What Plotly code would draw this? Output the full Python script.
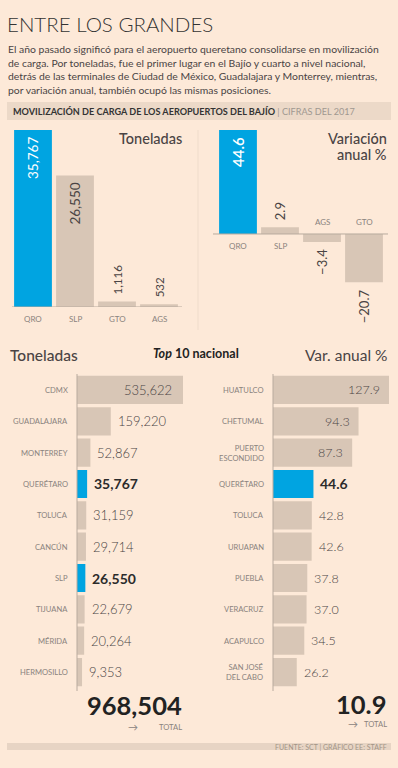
import plotly.graph_objects as go

# ---------------- data ----------------
top_cats = ["QRO", "SLP", "GTO", "AGS"]
top_tons = [35767, 26550, 1116, 532]

var_cats = ["QRO", "SLP", "AGS", "GTO"]
var_vals = [44.6, 2.9, -3.4, -20.7]

nat_ton_cats = ["CDMX", "GUADALAJARA", "MONTERREY", "QUERÉTARO", "TOLUCA",
                "CANCÚN", "SLP", "TIJUANA", "MÉRIDA", "HERMOSILLO"]
nat_ton_vals = [535622, 159220, 52867, 35767, 31159, 29714, 26550, 22679, 20264, 9353]

nat_var_cats = ["HUATULCO", "CHETUMAL", "PUERTO<br>ESCONDIDO", "QUERÉTARO", "TOLUCA",
                "URUAPAN", "PUEBLA", "VERACRUZ", "ACAPULCO", "SAN JOSÉ<br>DEL CABO"]
nat_var_vals = [127.9, 94.3, 87.3, 44.6, 42.8, 42.6, 37.8, 37.0, 34.5, 26.2]

total_tons = 968504
total_var = 10.9

highlight = {"QRO", "QUERÉTARO", "SLP"}

# ---------------- style ----------------
W, H = 398, 768
BG = "#fde9d8"
TAN = "#d8c6b6"
BLUE = "#00a4e1"
DARK = "#2b2b2b"
TXT = "#4a4444"
GRAY = "#8a837e"
FONT = "Lato"
TON_OFFSET = 17000  # minimum visible bar length in bottom-left chart


def px(p):
    return p / W


def py(p):
    return 1 - p / H


fig = go.Figure()

# --- top left: toneladas ---
fig.add_trace(go.Bar(
    x=top_cats, y=top_tons, xaxis="x", yaxis="y",
    marker=dict(color=[BLUE if c == "QRO" else TAN for c in top_cats], line=dict(width=0)),
    hoverinfo="skip"))

# --- top right: variación ---
fig.add_trace(go.Bar(
    x=var_cats, y=var_vals, xaxis="x2", yaxis="y2",
    marker=dict(color=[BLUE if c == "QRO" else TAN for c in var_cats], line=dict(width=0)),
    hoverinfo="skip"))

# --- bottom left: top 10 toneladas ---
fig.add_trace(go.Bar(
    y=nat_ton_cats, x=[v + TON_OFFSET for v in nat_ton_vals], base=-TON_OFFSET,
    orientation="h", xaxis="x3", yaxis="y3",
    marker=dict(color=[BLUE if c in highlight else TAN for c in nat_ton_cats], line=dict(width=0)),
    hoverinfo="skip"))

# --- bottom right: top 10 variación ---
fig.add_trace(go.Bar(
    y=nat_var_cats, x=nat_var_vals, orientation="h", xaxis="x4", yaxis="y4",
    marker=dict(color=[BLUE if c in highlight else TAN for c in nat_var_cats], line=dict(width=0)),
    hoverinfo="skip"))

hidden = dict(visible=False, showgrid=False, zeroline=False, fixedrange=True)

rows_top, rows_bot = 374.3, 687.7

fig.update_layout(
    width=W, height=H, margin=dict(l=0, r=0, t=0, b=0),
    paper_bgcolor=BG, plot_bgcolor="rgba(0,0,0,0)",
    showlegend=False, bargap=0.1,
    font=dict(family=FONT, color=TXT),
    xaxis=dict(hidden, domain=[px(12), px(180)], range=[-0.5, 3.5], type="category"),
    yaxis=dict(hidden, domain=[py(307), py(130)], range=[0, 35767]),
    xaxis2=dict(hidden, domain=[px(217), px(385)], range=[-0.5, 3.5], type="category"),
    yaxis2=dict(hidden, domain=[py(320), py(130)], range=[-36.9, 44.6]),
    xaxis3=dict(hidden, domain=[px(77), px(183)], range=[-TON_OFFSET, 535622]),
    yaxis3=dict(hidden, domain=[py(rows_bot), py(rows_top)], type="category",
                categoryorder="array", categoryarray=nat_ton_cats, range=[9.5, -0.5]),
    xaxis4=dict(hidden, domain=[px(273), px(389)], range=[0, 127.9]),
    yaxis4=dict(hidden, domain=[py(rows_bot), py(rows_top)], type="category",
                categoryorder="array", categoryarray=nat_var_cats, range=[9.5, -0.5]),
)

shapes = []
# header band
shapes.append(dict(type="rect", xref="paper", yref="paper", x0=px(7), x1=px(391),
                   y0=py(120), y1=py(102), fillcolor="#ecd9c8", line=dict(width=0), layer="below"))
# footer band
shapes.append(dict(type="rect", xref="paper", yref="paper", x0=px(7), x1=px(391),
                   y0=py(750), y1=py(743), fillcolor="#e7d4c4", line=dict(width=0), layer="below"))
# baselines
shapes.append(dict(type="line", xref="paper", yref="y", x0=px(12), x1=px(182), y0=0, y1=0,
                   line=dict(color="#b8aa9e", width=1)))
shapes.append(dict(type="line", xref="paper", yref="y2", x0=px(213), x1=px(388), y0=0, y1=0,
                   line=dict(color="#b8aa9e", width=1)))
# vertical axis lines bottom
shapes.append(dict(type="line", xref="paper", yref="paper", x0=px(77), x1=px(77),
                   y0=py(374), y1=py(691), line=dict(color="#b8aa9e", width=1)))
shapes.append(dict(type="line", xref="paper", yref="paper", x0=px(273), x1=px(273),
                   y0=py(374), y1=py(691), line=dict(color="#b8aa9e", width=1)))
# divider
shapes.append(dict(type="line", xref="paper", yref="paper", x0=px(198), x1=px(198),
                   y0=py(330), y1=py(130), line=dict(color="#efdccb", width=1)))
fig.update_layout(shapes=shapes)

ann = []


def A(text, x, y, xanchor="left", yanchor="middle", size=11, color=TXT, weight=400,
      xref="paper", yref="paper", align="left", **kw):
    d = dict(text=text, x=x, y=y, xref=xref, yref=yref, xanchor=xanchor, yanchor=yanchor,
             showarrow=False, align=align,
             font=dict(family=FONT, size=size, color=color, weight=weight))
    d.update(kw)
    ann.append(d)


# title + intro
A("ENTRE LOS GRANDES", px(5), py(23.5), size=20.5, color="#333", weight=300)
intro = [
    "El año pasado significó para el aeropuerto queretano consolidarse en movilización",
    "de carga. Por toneladas, fue el primer lugar en el Bajío y cuarto a nivel nacional,",
    "detrás de las terminales de Ciudad de México, Guadalajara y Monterrey, mientras,",
    "por variación anual, también ocupó las mismas posiciones.",
]
for i, line in enumerate(intro):
    A(line, px(6), py(49 + 13.5 * i), size=10.4, color="#4a4444")

A("<b>MOVILIZACIÓN DE CARGA DE LOS AEROPUERTOS DEL BAJÍO</b>"
  "<span style='color:#a09890;font-weight:400'> | CIFRAS DEL 2017</span>",
  px(11), py(111), size=9.1, color="#333", weight=900)

# top-left header
A("Toneladas", px(184), py(138), xanchor="right", size=14.5, color="#4a4444", weight=500)
# top-right header
A("Variación", px(389), py(138), xanchor="right", size=14.5, color="#4a4444", weight=500)
A("anual %", px(389), py(154), xanchor="right", size=14.5, color="#4a4444", weight=500)

# top-left labels
for c, v in zip(top_cats, top_tons):
    A(c, c, 0, xref="x", yref="y", xanchor="center", yanchor="top", yshift=-5,
      size=8, color=GRAY)
    txt = f"{v:,}"
    if v > 20000:
        A(txt, c, v, xref="x", yref="y", xanchor="center", yanchor="top", yshift=-5,
          textangle=-90, size=13.5, color="white" if c == "QRO" else "#4a4444")
    else:
        A(txt, c, v, xref="x", yref="y", xanchor="center", yanchor="bottom", yshift=5,
          textangle=-90, size=11.5, color="#4a4444")

# top-right labels
for c, v in zip(var_cats, var_vals):
    if v >= 0:
        A(c, c, 0, xref="x2", yref="y2", xanchor="center", yanchor="top", yshift=-5,
          size=8, color=GRAY)
    else:
        A(c, c, 0, xref="x2", yref="y2", xanchor="center", yanchor="bottom", yshift=5,
          size=8, color=GRAY)
    txt = f"{v:.1f}".replace("-", "−")
    if c == "QRO":
        A(txt, c, v, xref="x2", yref="y2", xanchor="center", yanchor="top", yshift=-5,
          textangle=-90, size=15, color="white", weight=600)
    elif v >= 0:
        A(txt, c, v, xref="x2", yref="y2", xanchor="center", yanchor="bottom", yshift=5,
          textangle=-90, size=13, color="#4a4444")
    else:
        A(txt, c, v, xref="x2", yref="y2", xanchor="center", yanchor="top", yshift=-5,
          textangle=-90, size=13, color="#4a4444")

# bottom headers
A("Toneladas", px(8), py(355), size=15.5, color="#4a4444", weight=500)
A("<b><i>Top</i> 10 nacional</b>", px(196), py(353), xanchor="center", size=12.5, color="#222")
A("Var. anual %", px(389), py(355), xanchor="right", size=15.5, color="#4a4444", weight=400)

# bottom-left labels
for i, (c, v) in enumerate(zip(nat_ton_cats, nat_ton_vals)):
    A(c, px(70), c, yref="y3", xanchor="right", size=7.6, color=GRAY, align="right")
    hl = c in highlight
    if i == 0:
        A(f"{v:,}", v, c, xref="x3", yref="y3", xanchor="right", xshift=-9,
          size=13, color="#4a4444", weight=300)
    else:
        A(f"{v:,}", v, c, xref="x3", yref="y3", xanchor="left", xshift=5,
          size=14 if hl else 13, color=DARK if hl else "#4a4444", weight=700 if hl else 300)

# bottom-right labels
for i, (c, v) in enumerate(zip(nat_var_cats, nat_var_vals)):
    A(c, px(266), c, yref="y4", xanchor="right", size=7.6, color=GRAY, align="right")
    hl = c in highlight
    if i < 3:
        A(f"{v:.1f}", v, c, xref="x4", yref="y4", xanchor="right", xshift=-7,
          size=12.5, color="#4a4444", weight=300)
    else:
        A(f"{v:.1f}", v, c, xref="x4", yref="y4", xanchor="left", xshift=5,
          size=14 if hl else 12.5, color=DARK if hl else "#4a4444", weight=700 if hl else 300)

# totals
A(f"{total_tons:,}", px(184), py(704.5), xanchor="right", size=25.5, color="#222", weight=700)
A("→", px(133), py(727), xanchor="center", size=10, color=GRAY)
A("TOTAL", px(184), py(726.5), xanchor="right", size=7.6, color=GRAY)
A(f"{total_var:.1f}", px(388), py(703.5), xanchor="right", size=25.5, color="#222", weight=700)
A("→", px(353), py(724), xanchor="center", size=10, color=GRAY)
A("TOTAL", px(389), py(723.5), xanchor="right", size=7.6, color=GRAY)

# footer
A("FUENTE: SCT | GRÁFICO EE: STAFF", px(389), py(746.5), xanchor="right", size=7,
  color="#a39487")

fig.update_layout(annotations=ann)
fig.write_html(
    "out.html",
    config={"displayModeBar": False},
    post_script="document.body.style.margin='0';document.body.style.overflow='hidden';"
                "document.body.style.background='" + BG + "';",
)
